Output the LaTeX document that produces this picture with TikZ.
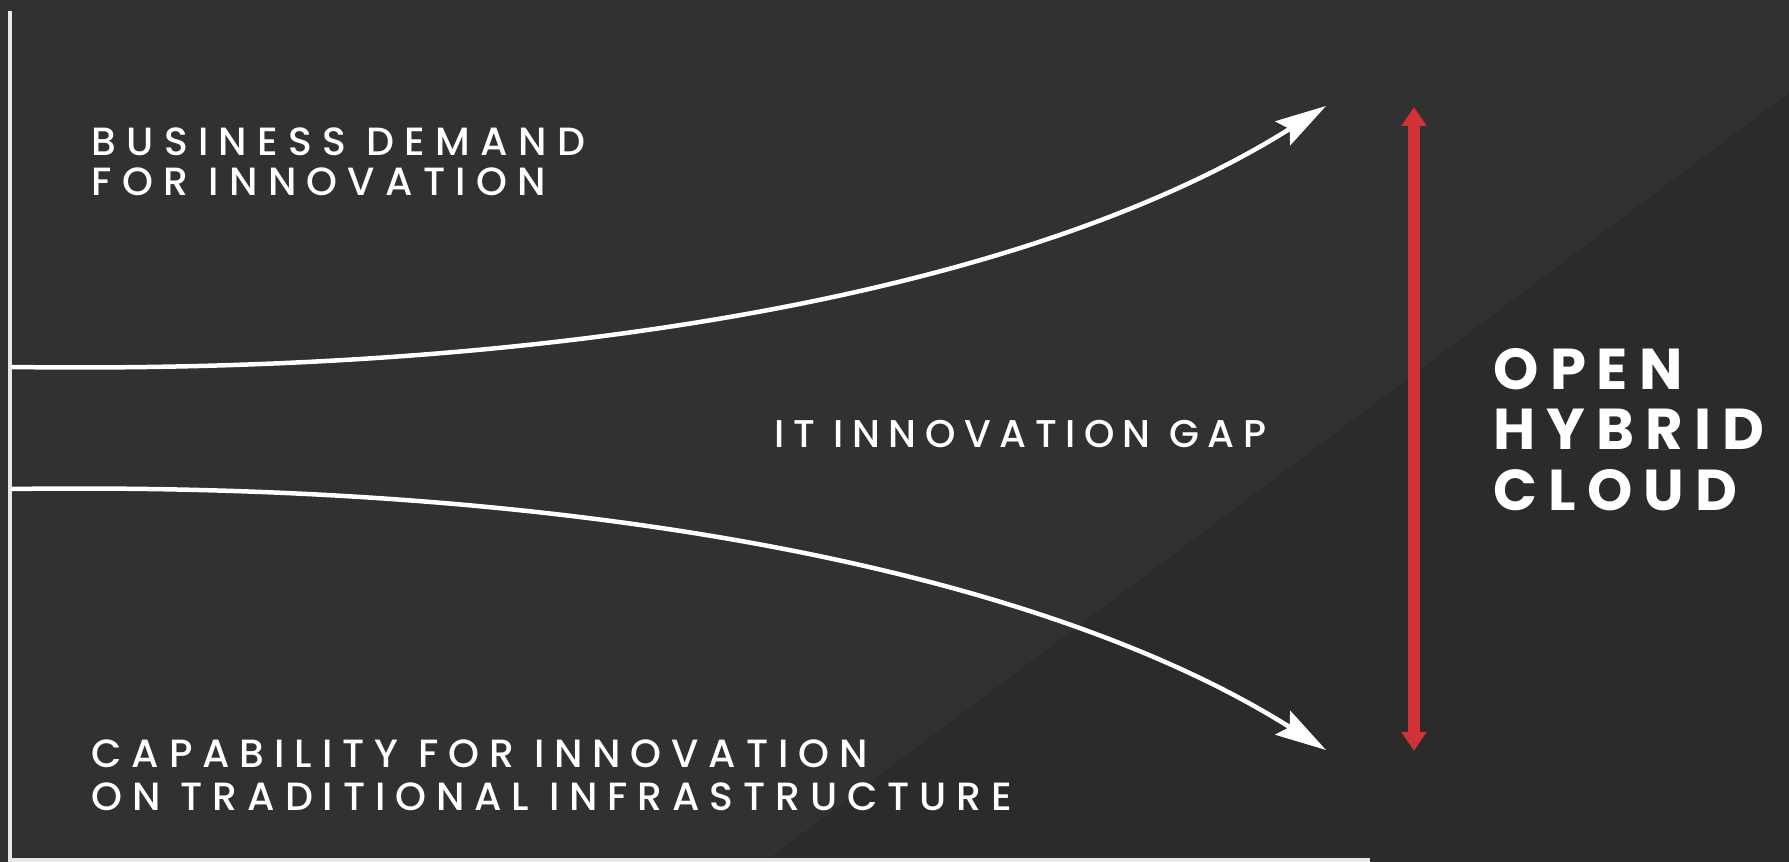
\documentclass[tikz,border=0pt]{standalone}
\usepackage{fontspec}
\setmainfont{Poppins}
\IfFontExistsTF{Poppins Medium}
  {\newfontfamily\labelfont{Poppins Medium}\newcommand{\track}{-2}}
  {\newfontfamily\labelfont{Poppins}[FakeBold=3]\newcommand{\track}{0}}
\usetikzlibrary{arrows.meta}
\newcommand{\pix}{0.01cm}
\definecolor{bgtop}{RGB}{49,49,49}
\definecolor{bgbot}{RGB}{43,43,43}
\definecolor{gapred}{RGB}{208,50,56}
\definecolor{axisgray}{RGB}{232,232,232}

\begin{document}
\begin{tikzpicture}[x=\pix, y=-\pix,
    caps/.style={text=white, anchor=north west, inner sep=0pt, align=left, font=\labelfont\fontsize{11.2}{11.4}\selectfont\addfontfeature{LetterSpace=\the\numexpr 28+\track\relax}},
    bigcaps/.style={caps, font=\fontsize{16.4}{17.1}\selectfont\bfseries\addfontfeature{LetterSpace=19}},
    flow/.style={draw=white, line width=4.5*\pix, -{Stealth[length=51*\pix, width=28*\pix, inset=8*\pix]}},
    span/.style={draw=gapred, line width=12*\pix, {Triangle[length=19*\pix, width=24*\pix]}-{Triangle[length=19*\pix, width=24*\pix]}}]
    \useasboundingbox (0,0) rectangle (1789,862);

    % Background
    \fill[bgtop] (0,0) rectangle (1789,862);
    \fill[bgbot] (764,862) -- (1789,93) -- (1789,862) -- cycle;

    % Axes
    \coordinate (axis-top) at (9.5,11);
    \coordinate (axis-end) at (1370,860);
    \draw[axisgray, line width=4*\pix] (axis-top) |- (axis-end);

    % Curves
    \coordinate (demand-start) at (11,367);
    \coordinate (demand-end) at (1326,106);
    \coordinate (capability-start) at (11,489);
    \coordinate (capability-end) at (1326,750);
    \draw[flow] (demand-start) .. controls (600,375) and (1050,280) .. (demand-end);
    \draw[flow] (capability-start) .. controls (600,481) and (1050,576) .. (capability-end);

    % Gap
    \coordinate (gap-top) at (1414,107);
    \coordinate (gap-bottom) at (1414,751);
    \draw[span] (gap-bottom) -- (gap-top);

    % Labels
    \node[caps] (demand) at (91,127) {BUSINESS DEMAND\\FOR INNOVATION};
    \node[caps, font=\labelfont\fontsize{11}{11.4}\selectfont\addfontfeature{LetterSpace=\the\numexpr 24+\track\relax}] (gap) at (774,420) {IT INNOVATION GAP};
    \node[caps, font=\labelfont\fontsize{11.2}{12.2}\selectfont\addfontfeature{LetterSpace=\the\numexpr 27+\track\relax}] (capability) at (91,739) {CAPABILITY FOR INNOVATION\\ON TRADITIONAL INFRASTRUCTURE};
    \node[bigcaps] (cloud) at (1493,348) {OPEN\\HYBRID\\CLOUD};

\end{tikzpicture}
\end{document}
